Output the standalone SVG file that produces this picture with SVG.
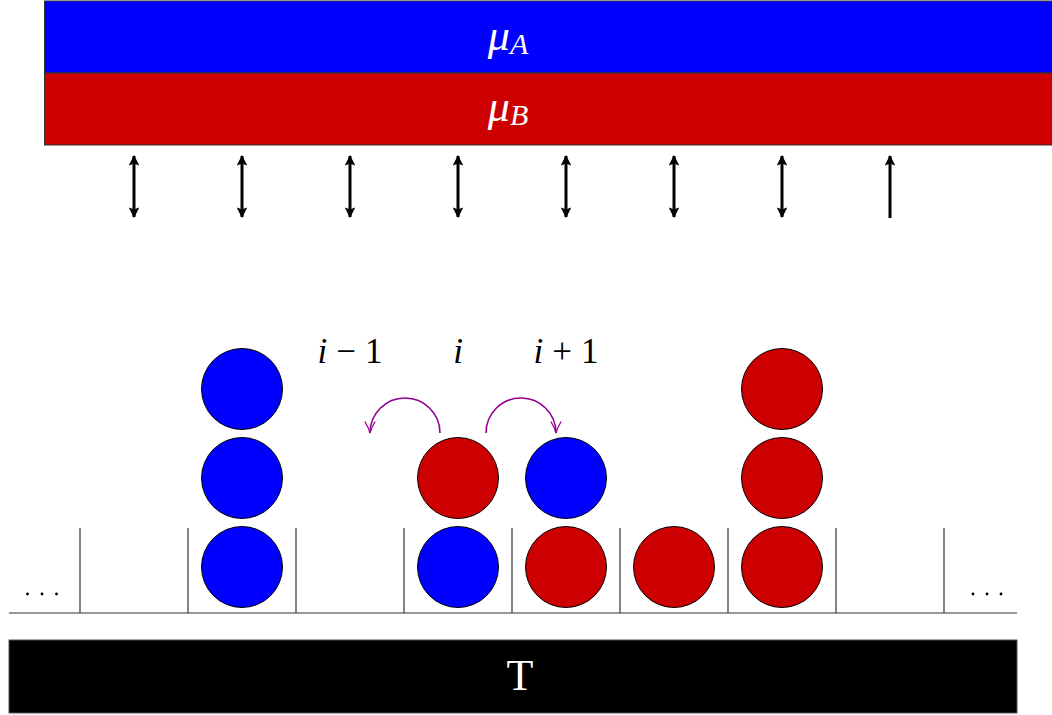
<svg xmlns="http://www.w3.org/2000/svg" width="1052" height="715" viewBox="0 0 1052 715">
<defs>
<style>
.bar{stroke:#333;stroke-width:1}
.ball{stroke:#000;stroke-width:1}
.blue{fill:#0000ff}
.red{fill:#cc0000}
.wall{stroke:#333;stroke-width:1.2}
.ex{stroke:#000;stroke-width:3}
.hop{fill:none;stroke:#900090;stroke-width:1.6}
.math{font-family:'Liberation Serif',serif;font-style:italic}
.num{font-family:'Liberation Serif',serif;font-style:normal}
</style>
<marker id="ah" viewBox="0 0 10 10" refX="9" refY="5" markerWidth="4.2" markerHeight="3.6" orient="auto-start-reverse" markerUnits="strokeWidth">
<path d="M0,0 L10,5 L0,10 L2,5 Z" fill="#000"/>
</marker>
<marker id="ph" viewBox="0 0 10 10" refX="9" refY="5" markerWidth="8" markerHeight="8" orient="auto" markerUnits="strokeWidth">
<path d="M0,1 Q5,4 9,5 Q5,6 0,9" fill="none" stroke="#900090" stroke-width="1"/>
</marker>
</defs>
<rect width="1052" height="715" fill="#fff"/>
<g id="muA">
<rect class="bar blue" x="44.5" y="1" width="1010" height="72"/>
<text x="508" y="50" fill="#fff" font-family="'Liberation Serif',serif" font-size="44" text-anchor="middle"><tspan class="math">μ</tspan><tspan class="math" font-size="30" dy="4">A</tspan></text>
</g>
<g id="muB">
<rect class="bar red" x="44.5" y="73" width="1010" height="72"/>
<text x="508" y="121" fill="#fff" font-family="'Liberation Serif',serif" font-size="44" text-anchor="middle"><tspan class="math">μ</tspan><tspan class="math" font-size="30" dy="4">B</tspan></text>
</g>
<g id="exchange">
<line class="ex" x1="134" y1="156" x2="134" y2="217" marker-start="url(#ah)" marker-end="url(#ah)"/>
<line class="ex" x1="242" y1="156" x2="242" y2="217" marker-start="url(#ah)" marker-end="url(#ah)"/>
<line class="ex" x1="350" y1="156" x2="350" y2="217" marker-start="url(#ah)" marker-end="url(#ah)"/>
<line class="ex" x1="458" y1="156" x2="458" y2="217" marker-start="url(#ah)" marker-end="url(#ah)"/>
<line class="ex" x1="566" y1="156" x2="566" y2="217" marker-start="url(#ah)" marker-end="url(#ah)"/>
<line class="ex" x1="674" y1="156" x2="674" y2="217" marker-start="url(#ah)" marker-end="url(#ah)"/>
<line class="ex" x1="782" y1="156" x2="782" y2="217" marker-start="url(#ah)" marker-end="url(#ah)"/>
<line class="ex" x1="890" y1="218" x2="890" y2="156" marker-end="url(#ah)"/>
</g>
<g id="lattice">
<line class="wall" x1="9" y1="613" x2="1017" y2="613"/>
<line class="wall" x1="80" y1="528" x2="80" y2="613"/>
<line class="wall" x1="188" y1="528" x2="188" y2="613"/>
<line class="wall" x1="296" y1="528" x2="296" y2="613"/>
<line class="wall" x1="404" y1="528" x2="404" y2="613"/>
<line class="wall" x1="512" y1="528" x2="512" y2="613"/>
<line class="wall" x1="620" y1="528" x2="620" y2="613"/>
<line class="wall" x1="728" y1="528" x2="728" y2="613"/>
<line class="wall" x1="836" y1="528" x2="836" y2="613"/>
<line class="wall" x1="944" y1="528" x2="944" y2="613"/>
<circle cx="27.5" cy="594" r="1.4"/><circle cx="42" cy="594" r="1.4"/><circle cx="56.5" cy="594" r="1.4"/>
<circle cx="973" cy="594" r="1.4"/><circle cx="987" cy="594" r="1.4"/><circle cx="1001" cy="594" r="1.4"/>
</g>
<g id="particles">
<circle class="ball blue" cx="242" cy="567" r="40.5"/>
<circle class="ball blue" cx="242" cy="478" r="40.5"/>
<circle class="ball blue" cx="242" cy="389" r="40.5"/>
<circle class="ball blue" cx="458" cy="567" r="40.5"/>
<circle class="ball red" cx="458" cy="478" r="40.5"/>
<circle class="ball red" cx="566" cy="567" r="40.5"/>
<circle class="ball blue" cx="566" cy="478" r="40.5"/>
<circle class="ball red" cx="674" cy="567" r="40.5"/>
<circle class="ball red" cx="782" cy="567" r="40.5"/>
<circle class="ball red" cx="782" cy="389" r="40.5"/>
<circle class="ball red" cx="782" cy="478" r="40.5"/>
</g>
<g id="labels" font-size="35" fill="#000" font-family="'Liberation Serif',serif">
<text x="350" y="363" text-anchor="middle"><tspan class="math">i</tspan><tspan class="num" dx="9">−</tspan><tspan class="num" dx="9">1</tspan></text>
<text x="458" y="363" text-anchor="middle" class="math">i</text>
<text x="566" y="363" text-anchor="middle"><tspan class="math">i</tspan><tspan class="num" dx="9">+</tspan><tspan class="num" dx="9">1</tspan></text>
</g>
<g id="hops">
<path class="hop" d="M440,433 A35,35 0 0 0 370,433" marker-end="url(#ph)"/>
<path class="hop" d="M486,433 A35,35 0 0 1 556,433" marker-end="url(#ph)"/>
</g>
<g id="reservoir">
<rect x="9" y="640" width="1008" height="73" fill="#000" stroke="#555" stroke-width="1"/>
<text x="520" y="690" fill="#fff" font-size="44" text-anchor="middle" font-family="'Liberation Serif',serif">T</text>
</g>
</svg>
